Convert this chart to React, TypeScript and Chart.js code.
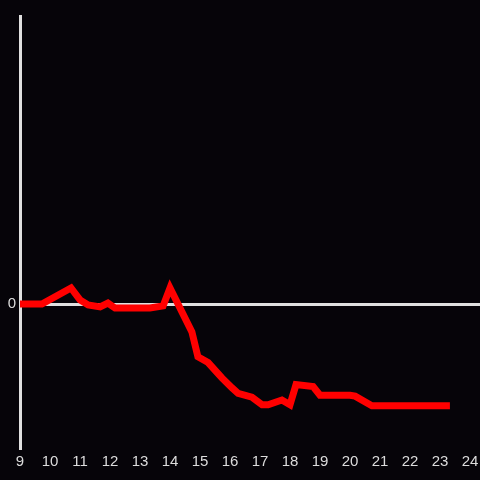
import React, { useEffect, useRef } from "react";
import { Chart, registerables } from "chart.js";

Chart.register(...registerables);

const hours = [9.0, 9.73, 10.7, 11.0, 11.27, 11.67, 11.93, 12.17, 13.33, 13.77, 14.0, 14.73, 14.93, 15.27, 15.73, 16.07, 16.27, 16.73, 17.07, 17.27, 17.73, 18.0, 18.2, 18.77, 19.0, 20.0, 20.17, 20.73, 23.33];
const values = [0, 0, 1.67, 0.42, -0.1, -0.3, 0.1, -0.42, -0.42, -0.2, 1.67, -2.9, -5.5, -6.1, -7.7, -8.75, -9.3, -9.7, -10.5, -10.5, -10.0, -10.5, -8.4, -8.6, -9.5, -9.5, -9.6, -10.6, -10.6];
const xTicks = [9, 10, 11, 12, 13, 14, 15, 16, 17, 18, 19, 20, 21, 22, 23, 24];
const yTicks = [0];

export default function App() {
  const ref = useRef<HTMLCanvasElement | null>(null);

  useEffect(() => {
    if (!ref.current) return;
    const chart = new Chart(ref.current, {
      type: "line",
      data: {
        datasets: [
          {
            data: hours.map((h, i) => ({ x: h, y: values[i] })),
            borderColor: "#ff0000",
            borderWidth: 7,
            pointRadius: 0,
            tension: 0,
            fill: false,
          },
        ],
      },
      options: {
        animation: false,
        responsive: false,
        maintainAspectRatio: false,
        layout: { padding: { top: 16, right: 0, left: 0, bottom: 0 } },
        plugins: { legend: { display: false }, tooltip: { enabled: false } },
        scales: {
          x: {
            type: "linear",
            min: 9,
            max: 24.333,
            afterBuildTicks: (s: any) => {
              s.ticks = xTicks.map((v) => ({ value: v }));
            },
            afterFit: (s: any) => {
              s.height = 32;
              s.paddingLeft = 0;
              s.paddingRight = 0;
            },
            grid: { display: false, drawTicks: false },
            border: { display: false },
            ticks: {
              color: "#dcdcdc",
              font: { family: "Liberation Sans", size: 15 },
              padding: 5,
              maxRotation: 0,
              autoSkip: false,
            },
          },
          y: {
            type: "linear",
            min: -15,
            max: 30,
            afterBuildTicks: (s: any) => {
              s.ticks = yTicks.map((v) => ({ value: v }));
            },
            afterFit: (s: any) => {
              s.width = 20;
              s.paddingTop = 0;
              s.paddingBottom = 0;
            },
            grid: { color: "#e0e0e0", lineWidth: 3, drawTicks: false },
            border: { display: true, color: "#e0e0e0", width: 3 },
            ticks: {
              color: "#dcdcdc",
              font: { family: "Liberation Sans", size: 15 },
              padding: 4,
            },
          },
        },
      },
    });
    return () => chart.destroy();
  }, []);

  return (
    <div style={{ position: "fixed", left: 0, top: 0, width: 480, height: 480, background: "#060409" }}>
      <canvas ref={ref} width={480} height={480} style={{ display: "block", width: 480, height: 480 }} />
    </div>
  );
}
